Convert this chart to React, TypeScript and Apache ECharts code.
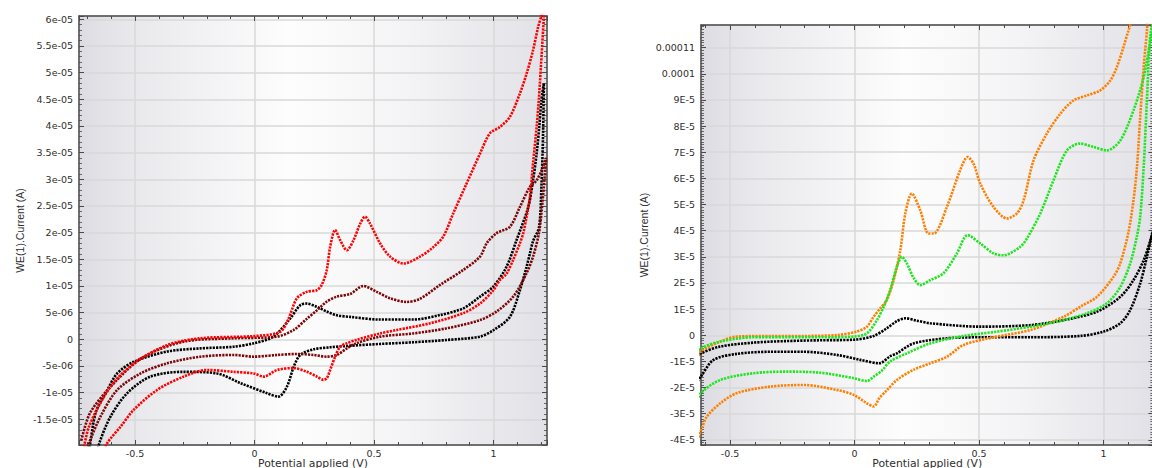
import React, { useEffect, useRef } from "react";
import * as echarts from "echarts";

// Left panel (potential V, current µA). Each loop: forward scan then reverse scan.
const leftBlack: [number, number][] = [
  [-0.7, -24], [-0.666, -13.9], [-0.617, -9.6], [-0.575, -6.4], [-0.505, -4.2], [-0.366, -2.3],
  [-0.227, -1.7], [-0.088, -1.4], [-0.004, -0.75], [0.079, 0.5], [0.149, 3.9], [0.191, 6.4],
  [0.218, 6.7], [0.26, 6.1], [0.302, 5.2], [0.344, 4.5], [0.4, 4.2], [0.525, 3.7], [0.664, 3.7],
  [0.776, 4.55], [0.873, 5.8], [0.943, 8.0], [0.999, 9.9], [1.054, 13.6], [1.096, 18.6],
  [1.145, 24.8], [1.165, 29.8], [1.18, 34.8], [1.191, 39.8], [1.2, 44.8], [1.21, 48],
  [1.207, 38.6], [1.2, 28.6], [1.19, 21], [1.165, 18.4], [1.152, 16.1], [1.138, 13.6],
  [1.11, 9.2], [1.068, 4.2], [0.999, 1.7], [0.943, 0.5], [0.804, -0.12], [0.664, -0.56],
  [0.525, -0.87], [0.386, -1.25], [0.316, -1.5], [0.247, -1.87], [0.191, -2.94], [0.165, -5.0],
  [0.135, -8.9], [0.1, -10.75], [0.052, -10.1], [-0.06, -8.2], [-0.157, -6.4], [-0.297, -6.1],
  [-0.436, -7.0], [-0.533, -10.1], [-0.603, -14.5], [-0.652, -19.8], [-0.68, -25],
];

const leftDarkRed: [number, number][] = [
  [-0.725, -19], [-0.686, -13.6], [-0.575, -7.6], [-0.464, -3.3], [-0.297, -0.44], [-0.088, 0.19],
  [0.094, 0.5], [0.163, 1.74], [0.22, 3.9], [0.26, 5.4], [0.3, 7.0], [0.344, 8.0], [0.4, 8.5],
  [0.455, 10.0], [0.511, 8.9], [0.567, 7.7], [0.637, 7.0], [0.692, 7.6], [0.776, 10.2],
  [0.873, 13.0], [0.943, 15.5], [0.971, 18.0], [1.012, 19.9], [1.068, 21.1], [1.11, 24.8],
  [1.152, 28.6], [1.18, 29.8], [1.207, 32.3], [1.22, 34],
  [1.205, 26], [1.19, 20], [1.165, 15.5], [1.138, 12.4], [1.082, 8.0], [1.012, 5.2], [0.943, 3.6],
  [0.804, 2.06], [0.664, 1.1], [0.525, 0.5], [0.425, -0.75], [0.386, -1.7], [0.344, -2.94],
  [0.302, -3.26], [0.247, -2.94], [0.177, -2.75], [0.094, -2.94], [-0.004, -3.26], [-0.088, -2.94],
  [-0.227, -3.26], [-0.366, -4.5], [-0.477, -6.4], [-0.575, -9.5], [-0.645, -14.5], [-0.693, -19.5],
  [-0.72, -23],
];

const leftRed: [number, number][] = [
  [-0.72, -22], [-0.693, -16.4], [-0.603, -8.9], [-0.505, -4.5], [-0.366, -1.1], [-0.227, 0.2],
  [-0.004, 0.6], [0.107, 1.4], [0.142, 3.9], [0.177, 7.7], [0.218, 8.9], [0.26, 9.2], [0.281, 10.2],
  [0.302, 13.0], [0.316, 17.3], [0.337, 20.5], [0.358, 18.6], [0.386, 16.7], [0.414, 18.6],
  [0.442, 21.7], [0.462, 23.0], [0.483, 21.7], [0.525, 18.0], [0.567, 15.5], [0.623, 14.2],
  [0.692, 15.5], [0.748, 17.3], [0.79, 19.3], [0.831, 23.6], [0.887, 29.2], [0.943, 34.8],
  [0.984, 38.6], [1.026, 39.8], [1.068, 41.7], [1.11, 46.1], [1.138, 49.8], [1.165, 54.2],
  [1.186, 58.5], [1.2, 60.7], [1.215, 64],
  [1.19, 45.4], [1.18, 39.8], [1.165, 33.0], [1.152, 26.7], [1.138, 23.0], [1.124, 19.9],
  [1.11, 18], [1.082, 14.9], [1.054, 12.3], [1.026, 11.1], [0.999, 9.2], [0.943, 6.7], [0.873, 4.9],
  [0.734, 3.0], [0.595, 1.74], [0.525, 1.1], [0.425, -0.12], [0.386, -0.75], [0.358, -1.38],
  [0.337, -3.26], [0.316, -5.75], [0.302, -7.3], [0.288, -7.6], [0.261, -7.0], [0.219, -6.1],
  [0.163, -5.4], [0.094, -5.75], [0.038, -7.0], [-0.004, -6.4], [-0.088, -6.1], [-0.199, -5.75],
  [-0.297, -7.0], [-0.408, -9.5], [-0.505, -13.2], [-0.561, -16.4], [-0.617, -19.5], [-0.65, -23],
];

// Right panel (potential V, current µA)
const rightBlack: [number, number][] = [
  [-0.64, -9], [-0.617, -6.9], [-0.539, -4.3], [-0.405, -2.8], [-0.271, -2.2], [-0.137, -1.9],
  [-0.003, -1.7], [0.077, -0.25], [0.13, 2.7], [0.17, 5.4], [0.204, 6.5], [0.25, 5.6], [0.304, 4.6],
  [0.505, 3.3], [0.706, 3.9], [0.84, 5.8], [0.973, 9.0], [1.067, 14.7], [1.12, 21.1], [1.161, 28.7],
  [1.188, 36.4], [1.21, 44],
  [1.196, 39], [1.174, 30.0], [1.147, 19.8], [1.107, 9.7], [1.067, 4.6], [1.0, 1.4], [0.906, -0.25],
  [0.706, -0.76], [0.505, -0.76], [0.371, -1.15], [0.237, -3.1], [0.17, -6.9], [0.143, -8.0],
  [0.1, -10.7], [0.023, -9.4], [-0.071, -7.5], [-0.204, -6.3], [-0.338, -6.3], [-0.472, -7.1],
  [-0.566, -9.4], [-0.617, -15.8], [-0.64, -19],
];

const rightOrange: [number, number][] = [
  [-0.64, -10], [-0.617, -6.2], [-0.539, -2.4], [-0.472, -0.5], [-0.338, -0.25], [-0.204, -0.25],
  [-0.071, 0.1], [0.009, 1.4], [0.05, 3.3], [0.077, 7.1], [0.103, 10.3], [0.13, 13.5], [0.157, 21.1],
  [0.184, 32.6], [0.204, 46.6], [0.23, 54.2], [0.264, 47.8], [0.297, 38.9], [0.318, 38.9],
  [0.371, 49.1], [0.424, 63.1], [0.454, 68.2], [0.478, 65.6], [0.505, 58.0], [0.558, 49.1],
  [0.612, 44.7], [0.652, 46.6], [0.679, 51.6], [0.719, 66.9], [0.772, 77.1], [0.826, 84.7],
  [0.879, 89.8], [0.933, 91.7], [0.986, 93.6], [1.027, 97.4], [1.053, 102.5], [1.08, 110.2],
  [1.1, 116.5], [1.14, 126], [1.18, 126],
  [1.174, 116.5], [1.161, 102.5], [1.147, 83.4], [1.134, 64.3], [1.12, 51.6], [1.1, 39.5],
  [1.067, 27.5], [1.04, 22.4], [0.973, 14.7], [0.906, 10.9], [0.84, 7.1], [0.706, 2.0],
  [0.572, -0.5], [0.438, -3.7], [0.371, -8.2], [0.304, -10.7], [0.237, -13.2], [0.17, -17.1],
  [0.13, -21], [0.1, -24], [0.077, -27.2], [0.05, -26.0], [-0.003, -22.8], [-0.071, -20.9],
  [-0.204, -19.0], [-0.338, -19.6], [-0.472, -22.1], [-0.539, -26.0], [-0.593, -31.1],
  [-0.613, -35.5], [-0.63, -40],
];

const rightGreen: [number, number][] = [
  [-0.64, -8], [-0.617, -5.0], [-0.539, -2.4], [-0.405, -0.76], [-0.271, -0.76], [-0.137, -0.76],
  [-0.003, -0.5], [0.05, 0.76], [0.09, 5.8], [0.117, 10.9], [0.143, 17.3], [0.17, 26.2], [0.19, 30.0],
  [0.21, 27.5], [0.237, 22], [0.264, 19.2], [0.304, 21.1], [0.357, 23.7], [0.411, 31.3],
  [0.454, 38.3], [0.505, 35.1], [0.558, 31.3], [0.598, 30.6], [0.665, 33.8], [0.692, 37.0],
  [0.746, 46.6], [0.799, 59.3], [0.853, 70.7], [0.906, 73.3], [0.96, 72.0], [1.013, 70.7],
  [1.067, 74.5], [1.12, 86.0], [1.161, 98.7], [1.188, 112.7], [1.205, 122],
  [1.188, 115], [1.174, 89.8], [1.161, 64.3], [1.147, 45.3], [1.134, 38], [1.107, 27.5],
  [1.067, 18.5], [1.013, 12.2], [0.933, 8.4], [0.84, 5.8], [0.706, 3.3], [0.572, 1.4],
  [0.438, -0.25], [0.304, -3.1], [0.21, -6.9], [0.143, -10.0], [0.11, -13.5], [0.077, -15.8],
  [0.05, -17.5], [-0.003, -16.4], [-0.137, -14.3], [-0.271, -13.9], [-0.405, -14.5],
  [-0.539, -17.1], [-0.617, -22.1], [-0.64, -27],
];

const X_NAME = "Potential applied (V)";
const Y_NAME = "WE(1).Current (A)";

const FONT = "DejaVu Sans";
const AXIS_COLOR = "#4a4a4a";
const TEXT_COLOR = "#2e2e2e";

function splitExp(v: number) {
  const a = Math.abs(v);
  const e = Math.floor(Math.log10(a) + 1e-9);
  const mant = Math.round((v / Math.pow(10, e)) * 1000) / 1000;
  return { mant, exp: e - 6 };
}

function fmtLeft(v: number) {
  const r = Math.round(v * 1000) / 1000;
  if (Math.abs(r) < 1e-9) return "0";
  const { mant, exp } = splitExp(r);
  const ae = Math.abs(exp);
  return `${mant}e${exp < 0 ? "-" : "+"}${ae < 10 ? "0" + ae : ae}`;
}

function fmtRight(v: number) {
  const r = Math.round(v * 1000) / 1000;
  if (Math.abs(r) < 1e-9) return "0";
  if (Math.abs(r) >= 100) return String(r / 1e6);
  const { mant, exp } = splitExp(r);
  return `${mant}E${exp}`;
}

function fmtX(v: number) {
  return String(Math.round(v * 100) / 100);
}

function bg() {
  return new echarts.graphic.LinearGradient(0, 0, 1, 0, [
    { offset: 0, color: "#dcdce2" },
    { offset: 0.12, color: "#e9e9ed" },
    { offset: 0.45, color: "#fdfdfd" },
    { offset: 0.7, color: "#f4f4f6" },
    { offset: 1, color: "#e1e1e7" },
  ]);
}

const labelStyle = { fontFamily: FONT, fontSize: 9.5, color: TEXT_COLOR };

function xAxes(grid: number, min: number, max: number) {
  const common = {
    type: "value" as const,
    gridIndex: grid,
    min,
    max,
    splitNumber: 4,
    axisLine: { show: true, onZero: false, lineStyle: { color: AXIS_COLOR, width: 1.5 } },
    axisTick: { show: true, inside: true, length: 5, lineStyle: { color: AXIS_COLOR, width: 1 } },
    minorTick: { show: true, splitNumber: 5, length: 3, lineStyle: { color: AXIS_COLOR, width: 1 } },
  };
  return [
    {
      ...common,
      position: "bottom",
      splitLine: { show: true, lineStyle: { color: "#d9d9d9", width: 1.5 } },
      axisLabel: {
        ...labelStyle, lineHeight: 10, margin: 3, showMinLabel: false, showMaxLabel: false, formatter: fmtX,
      },
      name: X_NAME,
      nameLocation: "middle",
      nameGap: 13,
      nameMoveOverlap: false,
      nameTextStyle: { fontFamily: FONT, fontSize: 10.8, lineHeight: 10, color: TEXT_COLOR },
    },
    {
      ...common,
      position: "top",
      splitLine: { show: false },
      axisLabel: { show: false },
    },
  ];
}

function yAxes(grid: number, min: number, max: number, minorSplit: number, fmt: (v: number) => string, nameGap: number) {
  const common = {
    type: "value" as const,
    gridIndex: grid,
    min,
    max,
    splitNumber: 16,
    axisLine: { show: true, onZero: false, lineStyle: { color: AXIS_COLOR, width: 1.5 } },
    axisTick: { show: true, inside: true, length: 5, lineStyle: { color: AXIS_COLOR, width: 1 } },
    minorTick: { show: true, splitNumber: minorSplit, length: 3, lineStyle: { color: AXIS_COLOR, width: 0.8 } },
  };
  return [
    {
      ...common,
      position: "left",
      splitLine: { show: true, lineStyle: { color: "#d9d9d9", width: 1.5 } },
      axisLabel: { ...labelStyle, margin: 6, showMinLabel: false, showMaxLabel: false, formatter: fmt },
      name: Y_NAME,
      nameLocation: "middle",
      nameGap,
      nameMoveOverlap: false,
      nameTextStyle: { fontFamily: "Liberation Sans", fontSize: 10.5, color: TEXT_COLOR },
    },
    {
      ...common,
      position: "right",
      splitLine: { show: false },
      axisLabel: { show: false },
    },
  ];
}

function loop(data: [number, number][], color: string, xi: number, yi: number, z: number) {
  return {
    type: "line" as const,
    xAxisIndex: xi,
    yAxisIndex: yi,
    data,
    showSymbol: false,
    symbol: "none",
    smooth: 0.3,
    clip: true,
    silent: true,
    z,
    lineStyle: { color, width: 2.6, type: [2.2, 1.1], cap: "butt" },
  };
}

export default function App() {
  const ref = useRef<HTMLDivElement>(null);

  useEffect(() => {
    if (!ref.current) return;
    const chart = echarts.init(ref.current, null, { renderer: "svg" });
    const option = {
      animation: false,
      backgroundColor: "#ffffff",
      grid: [
        {
          left: 79, top: 16, width: 468, height: 429, show: true, backgroundColor: bg(), borderWidth: 0,
          containLabel: false, outerBoundsMode: "none",
        },
        {
          left: 701, top: 25, width: 452.4, height: 420, show: true, backgroundColor: bg(), borderWidth: 0,
          containLabel: false, outerBoundsMode: "none",
        },
      ],
      xAxis: [...xAxes(0, -0.7347, 1.2234), ...xAxes(1, -0.6163, 1.2)],
      yAxis: [
        ...yAxes(0, -19.82, 60.62, 5, fmtLeft, 54),
        ...yAxes(1, -41.95, 118.65, 10, fmtRight, 52),
      ],
      series: [
        loop(leftBlack, "#000000", 0, 0, 2),
        loop(leftDarkRed, "#7d0606", 0, 0, 3),
        loop(leftRed, "#ff0000", 0, 0, 4),
        loop(rightBlack, "#000000", 2, 2, 2),
        loop(rightOrange, "#ff8000", 2, 2, 3),
        loop(rightGreen, "#1ee61e", 2, 2, 4),
      ],
    };
    chart.setOption(option as any);
    return () => chart.dispose();
  }, []);

  return (
    <div
      ref={ref}
      style={{ position: "fixed", left: 0, top: 0, width: 1152, height: 468, background: "#fff" }}
    />
  );
}
